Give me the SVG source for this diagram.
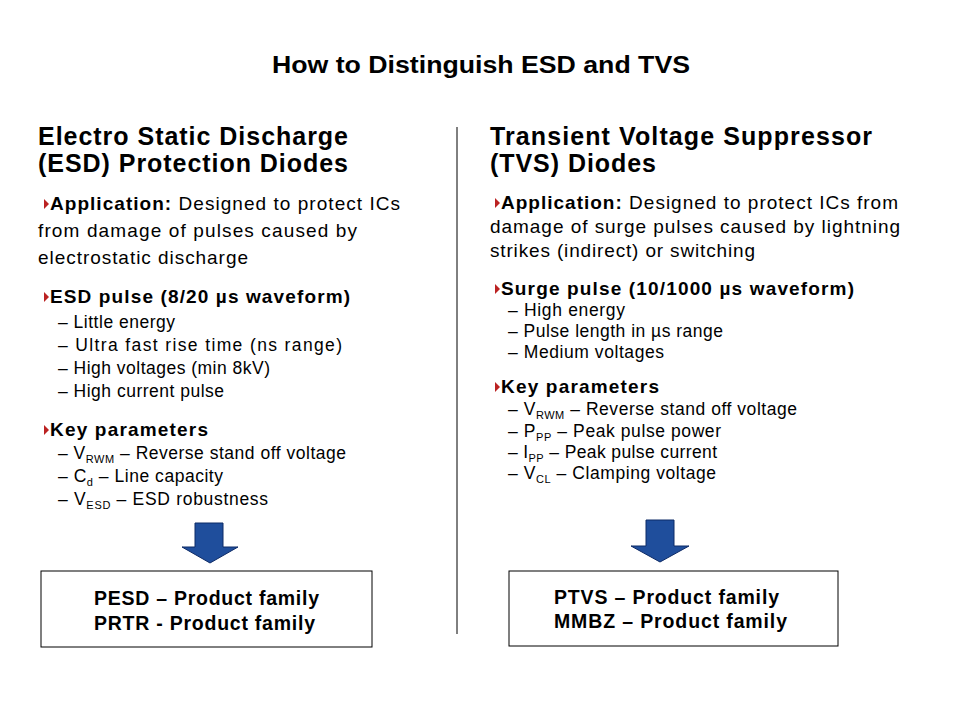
<svg xmlns="http://www.w3.org/2000/svg" width="960" height="720" viewBox="0 0 960 720">
<style>
text{font-family:"Liberation Sans",Arial,sans-serif;fill:#000}
.t{font-size:23px;font-weight:bold}
.h{font-size:25px;font-weight:bold}
.b{font-size:19px}
.bb{font-size:19px;font-weight:bold}
.s{font-size:17.5px}
.x{font-size:19.5px;font-weight:bold}
.sub{font-size:11px}
.box{fill:#fff;stroke:#000;stroke-width:1}
.arr{fill:#1f4e9c;stroke:#0d2a66;stroke-width:1}
</style>
<defs><path id="tri" d="M0,-5 L5,0 L0,5Z" fill="#b22"/></defs>
<text class="t" x="272" y="73" textLength="418" lengthAdjust="spacingAndGlyphs">How to Distinguish ESD and TVS</text>
<g id="connectors"><line x1="457" y1="127" x2="457" y2="634" stroke="#000" stroke-width="1"/></g>
<g id="esd">
<text class="h" x="38" y="145" textLength="310">Electro Static Discharge</text>
<text class="h" x="38" y="172" textLength="310">(ESD) Protection Diodes</text>
<use href="#tri" x="44" y="204"/>
<text class="b" x="50" y="210" textLength="350"><tspan font-weight="bold">Application:</tspan> Designed to protect ICs</text>
<text class="b" x="38" y="237" textLength="319">from damage of pulses caused by</text>
<text class="b" x="38" y="264" textLength="210">electrostatic discharge</text>
<use href="#tri" x="44" y="297"/>
<text class="bb" x="50" y="303" textLength="300">ESD pulse (8/20 µs waveform)</text>
<text class="s" x="58" y="328" textLength="117">– Little energy</text>
<text class="s" x="58" y="351" textLength="284">– Ultra fast rise time (ns range)</text>
<text class="s" x="58" y="374" textLength="212">– High voltages (min 8kV)</text>
<text class="s" x="58" y="397" textLength="166">– High current pulse</text>
<use href="#tri" x="44" y="430"/>
<text class="bb" x="50" y="436" textLength="158">Key parameters</text>
<text class="s" x="58" y="459" textLength="288">– V<tspan class="sub" dy="4">RWM</tspan><tspan dy="-4"> – Reverse stand off voltage</tspan></text>
<text class="s" x="58" y="482" textLength="165">– C<tspan class="sub" dy="4">d</tspan><tspan dy="-4"> – Line capacity</tspan></text>
<text class="s" x="58" y="505" textLength="210">– V<tspan class="sub" dy="4">ESD</tspan><tspan dy="-4"> – ESD robustness</tspan></text>
</g>
<g id="tvs">
<text class="h" x="490" y="145" textLength="382">Transient Voltage Suppressor</text>
<text class="h" x="490" y="172" textLength="166">(TVS) Diodes</text>
<use href="#tri" x="495" y="203"/>
<text class="b" x="501" y="209" textLength="397"><tspan font-weight="bold">Application:</tspan> Designed to protect ICs from</text>
<text class="b" x="490" y="233" textLength="410">damage of surge pulses caused by lightning</text>
<text class="b" x="490" y="257" textLength="265">strikes (indirect) or switching</text>
<use href="#tri" x="495" y="289"/>
<text class="bb" x="501" y="295" textLength="353">Surge pulse (10/1000 µs waveform)</text>
<text class="s" x="508" y="316" textLength="117">– High energy</text>
<text class="s" x="508" y="337" textLength="215">– Pulse length in µs range</text>
<text class="s" x="508" y="358" textLength="156">– Medium voltages</text>
<use href="#tri" x="495" y="387"/>
<text class="bb" x="501" y="393" textLength="158">Key parameters</text>
<text class="s" x="508" y="415" textLength="289">– V<tspan class="sub" dy="4">RWM</tspan><tspan dy="-4"> – Reverse stand off voltage</tspan></text>
<text class="s" x="508" y="437" textLength="213">– P<tspan class="sub" dy="4">PP</tspan><tspan dy="-4"> – Peak pulse power</tspan></text>
<text class="s" x="508" y="458" textLength="209">– I<tspan class="sub" dy="4">PP</tspan><tspan dy="-4"> – Peak pulse current</tspan></text>
<text class="s" x="508" y="479" textLength="208">– V<tspan class="sub" dy="4">CL</tspan><tspan dy="-4"> – Clamping voltage</tspan></text>
</g>
<g id="arrow-left"><path class="arr" d="M195,523 H223 V547 H238 L210,563 L182,547 H195Z"/></g>
<g id="arrow-right"><path class="arr" d="M646,520 H674 V546 H689 L660,562 L631,546 H646Z"/></g>
<g id="box-left"><rect class="box" x="41" y="571" width="331" height="76"/>
<text class="x" x="94" y="605" textLength="225">PESD – Product family</text>
<text class="x" x="94" y="630" textLength="221">PRTR - Product family</text></g>
<g id="box-right"><rect class="box" x="509" y="571" width="329" height="75"/>
<text class="x" x="554" y="604" textLength="225">PTVS – Product family</text>
<text class="x" x="554" y="628" textLength="233">MMBZ – Product family</text></g>
</svg>
